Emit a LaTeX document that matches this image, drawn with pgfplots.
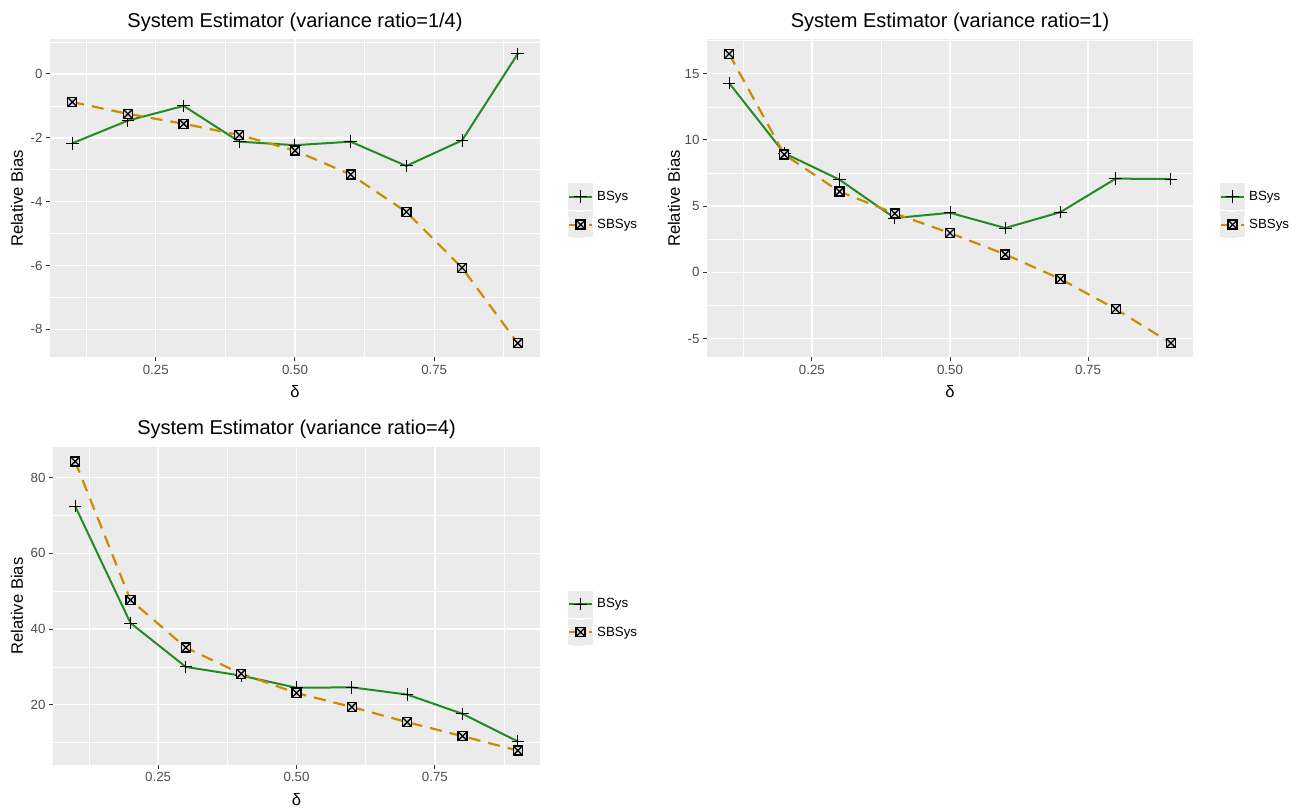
\documentclass[border=0pt]{standalone}
\usepackage{fontspec}
\setmainfont{Liberation Sans}
\usepackage{pgfplots}
\pgfplotsset{compat=1.18}
\definecolor{panelbg}{RGB}{235,235,235}
\definecolor{ticklab}{RGB}{77,77,77}
\definecolor{tickcol}{RGB}{51,51,51}
\definecolor{bgreen}{RGB}{34,139,34}
\definecolor{sorange}{RGB}{205,140,0}

\pgfdeclareplotmark{boxx}{%
  \pgfpathrectangle{\pgfqpoint{-\pgfplotmarksize}{-\pgfplotmarksize}}{\pgfqpoint{2\pgfplotmarksize}{2\pgfplotmarksize}}%
  \pgfusepathqfillstroke
  \pgfpathmoveto{\pgfqpoint{-\pgfplotmarksize}{-\pgfplotmarksize}}%
  \pgfpathlineto{\pgfqpoint{\pgfplotmarksize}{\pgfplotmarksize}}%
  \pgfpathmoveto{\pgfqpoint{-\pgfplotmarksize}{\pgfplotmarksize}}%
  \pgfpathlineto{\pgfqpoint{\pgfplotmarksize}{-\pgfplotmarksize}}%
  \pgfusepathqstroke
}

\pgfplotsset{
  rp/.style={
    scale only axis, height=318pt,
    axis background/.style={fill=panelbg},
    axis line style={draw=none},
    grid=both,
    major grid style={white, line width=1.4pt},
    minor grid style={white, line width=0.7pt},
    tick align=outside, major tick length=4pt, minor tick length=0pt,
    tick style={tickcol, line width=1pt},
    xtick pos=left, ytick pos=left,
    xmin=0.06, xmax=0.94,
    xtick={0.25,0.5,0.75}, xticklabels={0.25,0.50,0.75},
    minor xtick={0.125,0.375,0.625,0.875},
    tick label style={font=\fontsize{13.3}{16}\selectfont, text=ticklab},
    title style={font=\fontsize{20}{24}\selectfont, at={(axis description cs:0.5,1.0204)}, anchor=base},
    xlabel={δ},
    xlabel style={font=\fontsize{16.6}{20}\selectfont, at={(axis description cs:0.5,-0.1085)}, anchor=center},
    ylabel={Relative Bias},
    ylabel style={font=\fontsize{16.6}{20}\selectfont, anchor=center},
    legend cell align=left,
    legend style={draw=none, fill=none, inner sep=0pt, outer sep=0pt, row sep=1pt, column sep=4pt,
      nodes={inner sep=0pt}, font=\fontsize{13.3}{16}\selectfont, anchor=north west},
    legend image code/.code={
      \fill[panelbg] (0pt,-12.5pt) rectangle (23pt,12.5pt);
      \draw[mark repeat=2, mark phase=2, #1] plot coordinates {(0pt,0pt) (11.5pt,0pt) (23pt,0pt)};
    },
  },
  bs/.style={bgreen, line width=2pt, mark=+, mark size=6.3pt, mark options={black, line width=1pt, solid}},
  sb/.style={sorange, line width=2.2pt, dash pattern=on 12pt off 8pt, mark=boxx, mark size=4.5pt, mark options={black, fill=white!85!black, line width=1.3pt, solid}},
}

\begin{document}
\begin{tikzpicture}[x=1pt,y=1pt]
\useasboundingbox (0,0) rectangle (1307,807);

% Panel 1
\begin{axis}[rp, at={(50pt,449.5pt)}, anchor=south west, width=490pt,
  title={System Estimator (variance ratio=1/4)},
  ymin=-8.88, ymax=1.08,
  ytick={-8,-6,-4,-2,0}, yticklabels={-8,-6,-4,-2,0},
  minor ytick={-7,-5,-3,-1,1},
  ylabel style={at={(axis description cs:-0.0673,0.5)}},
  legend style={at={(axis description cs:1.0571,0.5487)}},
]
\addplot[bs] coordinates {(0.1,-2.17) (0.2,-1.46) (0.3,-1.0) (0.4,-2.12) (0.5,-2.23) (0.6,-2.12) (0.7,-2.88) (0.8,-2.08) (0.9,0.63)};
\addlegendentry{BSys}
\addplot[sb] coordinates {(0.1,-0.88) (0.2,-1.25) (0.3,-1.56) (0.4,-1.91) (0.5,-2.40) (0.6,-3.15) (0.7,-4.32) (0.8,-6.07) (0.9,-8.43)};
\addlegendentry{SBSys}
\end{axis}

% Panel 2
\begin{axis}[rp, at={(707pt,449.5pt)}, anchor=south west, width=486pt,
  title={System Estimator (variance ratio=1)},
  ymin=-6.43, ymax=17.59,
  ytick={-5,0,5,10,15}, yticklabels={-5,0,5,10,15},
  minor ytick={-2.5,2.5,7.5,12.5,17.5},
  ylabel style={at={(axis description cs:-0.0679,0.5)}},
  legend style={at={(axis description cs:1.0556,0.5487)}},
]
\addplot[bs] coordinates {(0.1,14.3) (0.2,9.0) (0.3,7.0) (0.4,4.1) (0.5,4.5) (0.6,3.35) (0.7,4.55) (0.8,7.08) (0.9,7.05)};
\addlegendentry{BSys}
\addplot[sb] coordinates {(0.1,16.5) (0.2,8.9) (0.3,6.1) (0.4,4.45) (0.5,2.97) (0.6,1.36) (0.7,-0.5) (0.8,-2.77) (0.9,-5.34)};
\addlegendentry{SBSys}
\end{axis}

% Panel 3
\begin{axis}[rp, at={(53pt,42pt)}, anchor=south west, width=487pt,
  title={System Estimator (variance ratio=4)},
  ymin=4.08, ymax=88.12,
  ytick={20,40,60,80}, yticklabels={20,40,60,80},
  minor ytick={10,30,50,70},
  ylabel style={at={(axis description cs:-0.0739,0.5)}},
  legend style={at={(axis description cs:1.0575,0.5487)}},
]
\addplot[bs] coordinates {(0.1,72.5) (0.2,41.6) (0.3,30.0) (0.4,27.7) (0.5,24.5) (0.6,24.6) (0.7,22.7) (0.8,17.6) (0.9,10.3)};
\addlegendentry{BSys}
\addplot[sb] coordinates {(0.1,84.3) (0.2,47.7) (0.3,35.1) (0.4,28.2) (0.5,23.1) (0.6,19.4) (0.7,15.4) (0.8,11.7) (0.9,7.9)};
\addlegendentry{SBSys}
\end{axis}
\end{tikzpicture}
\end{document}
